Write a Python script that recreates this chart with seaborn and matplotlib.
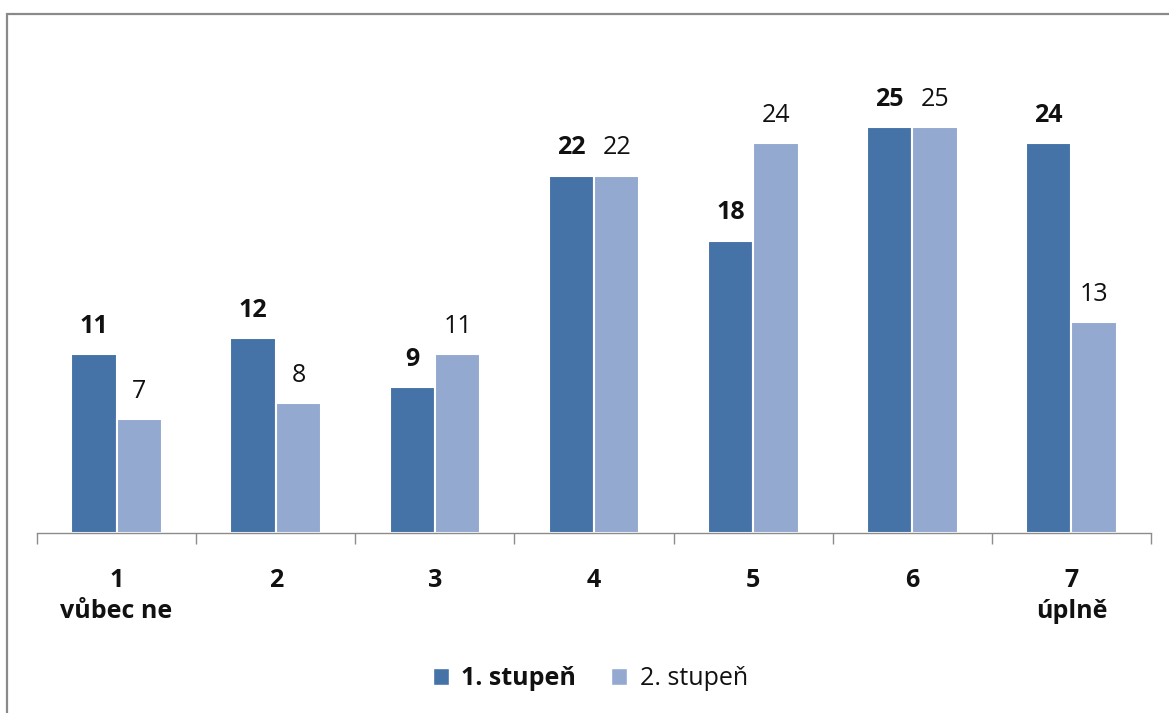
import matplotlib
matplotlib.use("Agg")
import matplotlib.pyplot as plt
import matplotlib.patches as mpatches
import seaborn as sns
import pandas as pd

categories = ["1\nvůbec ne", "2", "3", "4", "5", "6", "7\núplně"]
series_names = ["1. stupeň", "2. stupeň"]
values_1 = [11, 12, 9, 22, 18, 25, 24]
values_2 = [7, 8, 11, 22, 24, 25, 13]
colors = ["#4572A7", "#94A9D0"]

df = pd.DataFrame({
    "kategorie": categories * 2,
    "hodnota": values_1 + values_2,
    "stupeň": [series_names[0]] * len(categories) + [series_names[1]] * len(categories),
})

sns.set_theme(style="white")
plt.rcParams["font.family"] = ["Open Sans", "DejaVu Sans"]

fig = plt.figure(figsize=(11.69, 7.13), dpi=100)
ax = fig.add_axes([0.0317, 0.2525, 0.9529, 0.6833])

sns.barplot(data=df, x="kategorie", y="hodnota", hue="stupeň", order=categories,
            hue_order=series_names, palette=colors, saturation=1, width=0.57, ax=ax,
            edgecolor="white", linewidth=1.5, legend=False)

ax.set_ylim(0, 30)
ax.set_xlim(-0.5, len(categories) - 0.5)
ax.set_xlabel("")
ax.set_ylabel("")
ax.set_yticks([])
for side in ["top", "right", "left"]:
    ax.spines[side].set_visible(False)
ax.spines["bottom"].set_color("#8C8C8C")
ax.spines["bottom"].set_linewidth(1.0)

# category separators as downward ticks
ax.set_xticks([i - 0.5 for i in range(len(categories) + 1)], minor=True)
ax.tick_params(axis="x", which="minor", direction="out", length=8, width=1.0,
               color="#8C8C8C", bottom=True)
ax.tick_params(axis="x", which="major", length=0, pad=25)
ax.set_xticks(range(len(categories)))
ax.set_xticklabels(categories, fontsize=18, fontweight="bold", linespacing=1.35,
                   color="#111111")

# value labels
for container, weight in zip(ax.containers, ["bold", "normal"]):
    ax.bar_label(container, labels=[f"{int(v)}" for v in container.datavalues],
                 padding=11, fontsize=18, fontweight=weight, color="#111111")

# legend below the plot
handles = [mpatches.Patch(facecolor=c, edgecolor="white") for c in colors]
leg = fig.legend(handles, series_names, loc="center", bbox_to_anchor=(0.505, 0.048),
                 ncol=2, frameon=False, fontsize=18, handlelength=0.65,
                 handleheight=0.65, handletextpad=0.5, columnspacing=1.4)
for t in leg.get_texts():
    t.set_color("#111111")
leg.get_texts()[0].set_fontweight("bold")

# outer frame
frame = mpatches.Rectangle((0.006, -0.05), 1.2, 1.0304, transform=fig.transFigure,
                           fill=False, edgecolor="#8A8A8A", linewidth=1.6)
fig.patches.append(frame)

fig.savefig("out.png", dpi=100)
